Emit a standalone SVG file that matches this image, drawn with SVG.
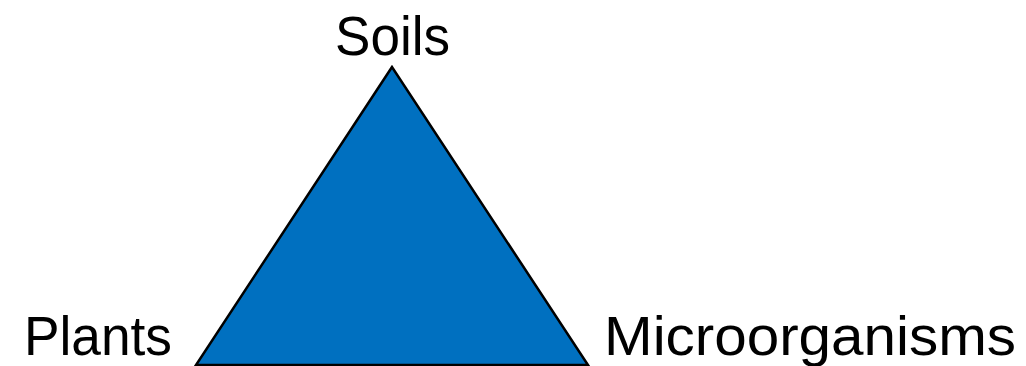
<svg xmlns="http://www.w3.org/2000/svg" width="1026" height="366" viewBox="0 0 1026 366">
<style>
.lbl{font-family:"Liberation Sans",Arial,sans-serif;font-size:56px;fill:#000}
</style>
<rect width="1026" height="366" fill="#fff"/>
<g id="triangle">
<polygon points="392,67 196,365 588,365" fill="#0070C0" stroke="#000" stroke-width="2.5" stroke-linejoin="miter"/>
</g>
<g id="soils"><text class="lbl" x="335" y="55" textLength="115" lengthAdjust="spacingAndGlyphs">Soils</text></g>
<g id="plants"><text class="lbl" x="24" y="355" textLength="148" lengthAdjust="spacingAndGlyphs">Plants</text></g>
<g id="microorganisms"><text class="lbl" x="604" y="355" textLength="412" lengthAdjust="spacingAndGlyphs">Microorganisms</text></g>
<g id="connectors"></g>
</svg>
